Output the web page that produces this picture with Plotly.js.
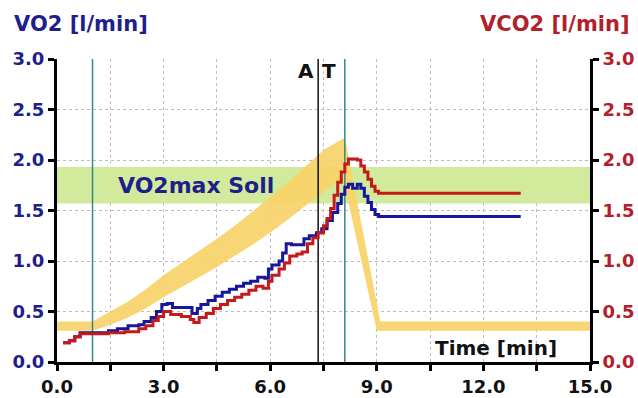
<!DOCTYPE html>
<html>
<head>
<meta charset="utf-8">
<script src="https://cdn.plot.ly/plotly-3.0.1.min.js"></script>
<style>
html,body{margin:0;padding:0;background:#fff;}
#chart{width:638px;height:398px;}
</style>
</head>
<body>
<div id="chart"></div>
<script>
// ---- data ----
const vo2X = [0.17,0.35,0.5,0.65,1.45,1.7,2.0,2.3,2.45,2.65,2.8,2.95,3.1,3.25,3.8,3.95,4.05,4.25,4.45,4.65,4.85,5.05,5.25,5.45,5.65,5.85,5.95,6.05,6.25,6.35,6.45,6.6,6.85,6.95,7.1,7.3,7.45,7.6,7.75,7.9,8.0,8.1,8.2,8.32,8.45,8.55,8.65,8.75,8.85,8.95,9.05,13.05];
const vo2Y = [0.19,0.21,0.25,0.29,0.31,0.33,0.36,0.37,0.40,0.44,0.50,0.57,0.58,0.54,0.48,0.53,0.57,0.61,0.65,0.69,0.72,0.75,0.78,0.80,0.84,0.83,0.92,0.96,1.00,1.08,1.17,1.16,1.16,1.22,1.25,1.28,1.32,1.40,1.48,1.57,1.66,1.73,1.76,1.72,1.76,1.72,1.64,1.58,1.51,1.46,1.44,1.44];

const vco2X = [0.17,0.35,0.5,0.65,1.45,1.9,2.3,2.5,2.7,2.85,3.0,3.2,3.5,3.75,3.85,4.0,4.2,4.4,4.6,4.8,5.0,5.2,5.4,5.6,5.8,5.95,6.05,6.25,6.4,6.55,6.75,6.9,7.05,7.2,7.35,7.5,7.6,7.7,7.8,7.9,8.0,8.1,8.2,8.45,8.55,8.65,8.75,8.85,8.95,9.05,13.05];
const vco2Y = [0.19,0.21,0.25,0.28,0.29,0.30,0.33,0.36,0.41,0.45,0.50,0.47,0.45,0.42,0.39,0.44,0.48,0.53,0.57,0.61,0.64,0.67,0.71,0.75,0.73,0.80,0.86,0.92,0.98,1.05,1.07,1.09,1.17,1.23,1.28,1.35,1.42,1.52,1.65,1.78,1.88,1.96,2.01,2.00,1.94,1.88,1.81,1.74,1.69,1.67,1.67];

// predicted band (yellow): top edge and bottom edge
const bandTopX = [0,1.0,1.5,2.0,2.5,3.0,3.5,4.0,4.5,5.0,5.5,6.0,6.5,7.0,7.5,8.1,9.1,15];
const bandTopY = [0.40,0.40,0.50,0.60,0.72,0.86,0.98,1.10,1.22,1.35,1.49,1.63,1.78,1.94,2.10,2.22,0.40,0.40];
const bandBottomX = [0,1.0,1.5,2.0,2.5,3.0,3.5,4.0,4.5,5.0,5.5,6.0,6.5,7.0,7.5,8.05,9.0,15];
const bandBottomY = [0.31,0.31,0.37,0.44,0.53,0.64,0.74,0.84,0.94,1.05,1.16,1.28,1.41,1.55,1.68,1.82,0.31,0.31];

// VO2max target range (green)
const vo2maxLow = 1.57, vo2maxHigh = 1.93;
const timeRange = [0, 15];
const yRange = [0, 3];

// markers (vertical lines)
const startLineX = 1.0;
const atLineX = 7.35;
const peakLineX = 8.1;

const xTickVals = [0,1.5,3,4.5,6,7.5,9,10.5,12,13.5,15];
const xTickText = ['0.0','','3.0','','6.0','','9.0','','12.0','','15.0'];
const yTickVals = [0,0.5,1,1.5,2,2.5,3];
const yTickText = ['0.0','0.5','1.0','1.5','2.0','2.5','3.0'];

// ---- build ----
const NAVY = '#1e1e8c';
const RED = '#b3202a';
const FONT = 'DejaVu Sans';

const bandPolyX = bandTopX.concat(bandBottomX.slice().reverse());
const bandPolyY = bandTopY.concat(bandBottomY.slice().reverse());

const traces = [
  { x:[timeRange[0],timeRange[1],timeRange[1],timeRange[0],timeRange[0]],
    y:[vo2maxLow,vo2maxLow,vo2maxHigh,vo2maxHigh,vo2maxLow],
    fill:'toself', fillcolor:'#d2ea9c', line:{width:0}, mode:'lines', hoverinfo:'skip', showlegend:false },
  { x:bandPolyX, y:bandPolyY, fill:'toself', fillcolor:'rgba(249,210,105,0.92)',
    line:{width:0}, mode:'lines', hoverinfo:'skip', showlegend:false },
  { x:[startLineX,startLineX], y:yRange, mode:'lines', line:{color:'#2f8c86', width:1.5}, showlegend:false },
  { x:[peakLineX,peakLineX], y:yRange, mode:'lines', line:{color:'#2f8c86', width:1.5}, showlegend:false },
  { x:[atLineX,atLineX], y:yRange, mode:'lines', line:{color:'#111', width:1.5}, showlegend:false },
  { x:vo2X, y:vo2Y, mode:'lines', line:{color:'#16169e', width:3, shape:'hv'}, showlegend:false },
  { x:vco2X, y:vco2Y, yaxis:'y2', mode:'lines', line:{color:'#c41a1a', width:3, shape:'hv'}, showlegend:false }
];

const layout = {
  width:638, height:398,
  margin:{l:57, r:48, t:59, b:36},
  paper_bgcolor:'#fff', plot_bgcolor:'#fff',
  showlegend:false,
  xaxis:{
    range:timeRange, tickmode:'array', tickvals:xTickVals, ticktext:xTickText,
    showline:true, linewidth:3, linecolor:'#000', ticks:'outside', ticklen:6, tickwidth:3, tickcolor:'#000',
    showgrid:true, gridcolor:'#bdbdbd', griddash:'dot', gridwidth:1, zeroline:false,
    tickfont:{family:FONT, size:18, color:'#111', weight:'bold'}
  },
  yaxis:{
    range:yRange, tickmode:'array', tickvals:yTickVals, ticktext:yTickText,
    showline:true, linewidth:3, linecolor:'#000', ticks:'outside', ticklen:6, tickwidth:3, tickcolor:'#000',
    showgrid:true, gridcolor:'#bdbdbd', griddash:'dot', gridwidth:1, zeroline:false,
    tickfont:{family:FONT, size:18, color:NAVY, weight:'bold'}
  },
  yaxis2:{
    range:yRange, overlaying:'y', side:'right', tickmode:'array', tickvals:yTickVals, ticktext:yTickText,
    showline:true, linewidth:3, linecolor:'#000', ticks:'outside', ticklen:6, tickwidth:3, tickcolor:'#000',
    showgrid:false, zeroline:false,
    tickfont:{family:FONT, size:18, color:RED, weight:'bold'}
  },
  annotations:[
    {text:'VO2 [l/min]', xref:'paper', yref:'paper', x:-0.085, y:1.115, xanchor:'left', yanchor:'middle',
     showarrow:false, font:{family:FONT, size:21, color:NAVY, weight:'bold'}},
    {text:'VCO2 [l/min]', xref:'paper', yref:'paper', x:1.079, y:1.115, xanchor:'right', yanchor:'middle',
     showarrow:false, font:{family:FONT, size:21, color:RED, weight:'bold'}},
    {text:'VO2max Soll', xref:'x', yref:'y', x:3.9, y:1.75, xanchor:'center', yanchor:'middle',
     showarrow:false, font:{family:FONT, size:22, color:NAVY, weight:'bold'}},
    {text:'Time [min]', xref:'x', yref:'y', x:12.35, y:0.14, xanchor:'center', yanchor:'middle',
     showarrow:false, font:{family:FONT, size:20, color:'#111', weight:'bold'}},
    {text:'A', xref:'x', yref:'y', x:atLineX-0.05, y:2.88, xanchor:'right', yanchor:'middle',
     showarrow:false, font:{family:FONT, size:20, color:'#111', weight:'bold'}},
    {text:'T', xref:'x', yref:'y', x:atLineX+0.05, y:2.88, xanchor:'left', yanchor:'middle',
     showarrow:false, font:{family:FONT, size:20, color:'#111', weight:'bold'}}
  ]
};

Plotly.newPlot('chart', traces, layout, {displayModeBar:false, staticPlot:true});
</script>
</body>
</html>
